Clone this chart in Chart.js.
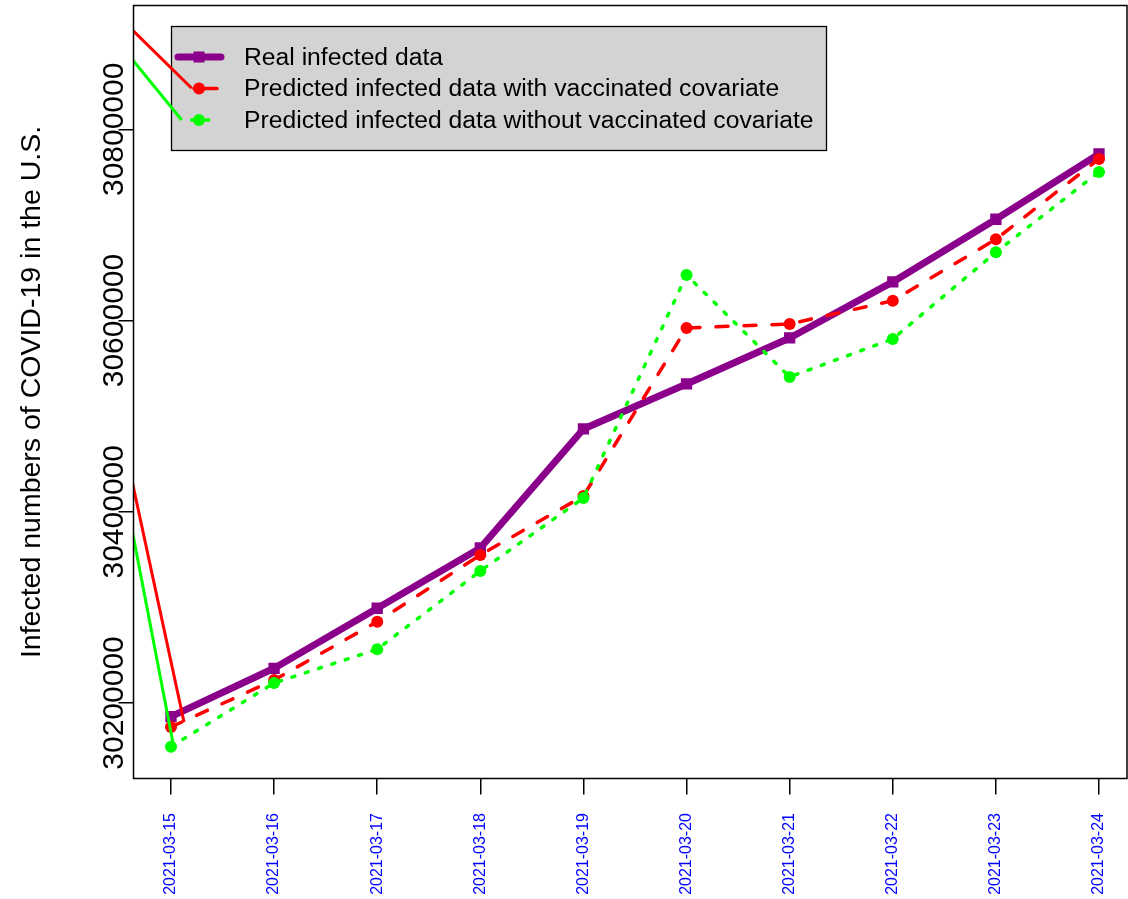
<!DOCTYPE html>
<html><head><meta charset="utf-8">
<script src="https://cdn.jsdelivr.net/npm/chart.js@4/dist/chart.umd.min.js"></script>
<style>html,body{margin:0;padding:0;background:#fff}canvas{display:block}</style>
</head><body>
<canvas id="c" width="1128" height="899"></canvas>
<script>
const dates = ['2021-03-15','2021-03-16','2021-03-17','2021-03-18','2021-03-19','2021-03-20','2021-03-21','2021-03-22','2021-03-23','2021-03-24'];
const realInfected = [30185670, 30236300, 30299060, 30362130, 30486600, 30533670, 30581790, 30640370, 30705950, 30774250];
const predWithVacc = [30174900, 30224060, 30285040, 30354800, 30416500, 30592250, 30596430, 30620800, 30685000, 30769000];
const predWithoutVacc = [30154290, 30220920, 30256170, 30338070, 30414430, 30647690, 30541000, 30580740, 30671400, 30755430];
const yTicks = [30200000, 30400000, 30600000, 30800000];
const seriesNames = ['Real infected data', 'Predicted infected data with vaccinated covariate', 'Predicted infected data without vaccinated covariate'];
const yTitle = 'Infected numbers of COVID-19 in the U.S.';
// stray straight segments visible in the picture (index units, value units)
const strayRedUpperX = [-0.45, 0.2008], strayRedUpperY = [30911800, 30842980];
const strayGreenUpperX = [-0.45, 0.1038], strayGreenUpperY = [30882830, 30809800];
const strayRedLowerX = [-0.45, 0.1261], strayRedLowerY = [30468440, 30180126];
const strayGreenLowerX = [-0.45, 0.0194], strayGreenLowerY = [30421700, 30158160];

const FONT = '"Liberation Sans", Arial, Helvetica, sans-serif';
const PURPLE = '#8b008b', RED = '#ff0000', GREEN = '#00ff00';
const pts = arr => arr.map((v, i) => ({x: i, y: v}));
const seg = (xs, ys) => xs.map((x, i) => ({x, y: ys[i]}));

const rPlugin = {
  id: 'rstyle',
  beforeDraw(chart) {
    const c = chart.ctx; c.save(); c.fillStyle = '#fff'; c.fillRect(0, 0, chart.width, chart.height); c.restore();
  },
  beforeDatasetsDraw(chart) {
    const c = chart.ctx; c.save();
    const bx = 171, by = 26, bw = 656, bh = 125;
    c.fillStyle = '#d3d3d3'; c.fillRect(bx, by, bw, bh);
    c.strokeStyle = '#000'; c.lineWidth = 1.3; c.strokeRect(bx + 0.5, by + 0.5, bw - 1, bh - 1);
    const rows = [57, 88.5, 120];
    c.lineCap = 'round';
    c.strokeStyle = PURPLE; c.lineWidth = 7;
    c.beginPath(); c.moveTo(178, rows[0]); c.lineTo(221, rows[0]); c.stroke();
    c.fillStyle = PURPLE; c.fillRect(193.5, rows[0] - 5.5, 11, 11);
    c.strokeStyle = RED; c.lineWidth = 3.5;
    c.beginPath(); c.moveTo(194, rows[1]); c.lineTo(217, rows[1]); c.stroke();
    c.fillStyle = RED; c.beginPath(); c.arc(199, rows[1], 6, 0, Math.PI * 2); c.fill();
    c.strokeStyle = GREEN; c.lineWidth = 3.5; c.setLineDash([3, 11]);
    c.beginPath(); c.moveTo(191.7, rows[2]); c.lineTo(209, rows[2]); c.stroke();
    c.setLineDash([]);
    c.fillStyle = GREEN; c.beginPath(); c.arc(199, rows[2], 6, 0, Math.PI * 2); c.fill();
    c.fillStyle = '#000'; c.font = '24.7px ' + FONT; c.textBaseline = 'middle'; c.textAlign = 'left';
    seriesNames.forEach((t, i) => c.fillText(t, 244, rows[i] + 1));
    c.restore();
  },
  afterDraw(chart) {
    const c = chart.ctx, a = chart.chartArea, ys = chart.scales.y, xs = chart.scales.x;
    c.save();
    c.strokeStyle = '#000'; c.lineWidth = 1.5;
    c.strokeRect(a.left, a.top, a.right - a.left, a.bottom - a.top);
    c.fillStyle = '#000'; c.font = '30px ' + FONT; c.textAlign = 'center'; c.textBaseline = 'alphabetic';
    yTicks.forEach(v => {
      const py = ys.getPixelForValue(v);
      c.save(); c.translate(123, py); c.rotate(-Math.PI / 2); c.fillText(String(v), 0, 0); c.restore();
    });
    c.font = '28.5px ' + FONT;
    c.save(); c.translate(40, (a.top + a.bottom) / 2); c.rotate(-Math.PI / 2); c.fillText(yTitle, 0, 0); c.restore();
    c.fillStyle = '#0000ff'; c.font = '16px ' + FONT; c.textAlign = 'right'; c.textBaseline = 'alphabetic';
    dates.forEach((d, i) => {
      const px = xs.getPixelForValue(i);
      c.save(); c.translate(px + 4.3, 813); c.rotate(-Math.PI / 2); c.fillText(d, 0, 0); c.restore();
    });
    c.restore();
  }
};

new Chart(document.getElementById('c'), {
  type: 'line',
  data: {
    datasets: [
      {label: seriesNames[2], data: pts(predWithoutVacc), borderColor: GREEN, backgroundColor: GREEN, borderWidth: 3.5,
       borderDash: [3, 11], borderCapStyle: 'round', borderJoinStyle: 'round', pointRadius: 6, pointBorderWidth: 0, pointBackgroundColor: GREEN, order: 1},
      {label: seriesNames[1], data: pts(predWithVacc), borderColor: RED, backgroundColor: RED, borderWidth: 3.5,
       borderDash: [12, 16], borderCapStyle: 'round', borderJoinStyle: 'round', pointRadius: 6, pointBorderWidth: 0, pointBackgroundColor: RED, order: 2},
      {label: seriesNames[0], data: pts(realInfected), borderColor: PURPLE, backgroundColor: PURPLE, borderWidth: 7,
       borderCapStyle: 'round', borderJoinStyle: 'round', pointStyle: 'rect', pointRadius: 8, pointBorderWidth: 0, pointBackgroundColor: PURPLE, order: 3},
      {data: seg(strayRedUpperX, strayRedUpperY), borderColor: RED, borderWidth: 3, pointRadius: 0, clip: 0, order: 0},
      {data: seg(strayGreenUpperX, strayGreenUpperY), borderColor: GREEN, borderWidth: 3, pointRadius: 0, clip: 0, order: 0},
      {data: seg(strayRedLowerX, strayRedLowerY), borderColor: RED, borderWidth: 3, pointRadius: 0, clip: 0, order: 0},
      {data: seg(strayGreenLowerX, strayGreenLowerY), borderColor: GREEN, borderWidth: 3, pointRadius: 0, clip: 0, order: 0}
    ]
  },
  options: {
    responsive: false, animation: false, devicePixelRatio: 1,
    layout: {autoPadding: false, padding: {top: 5.5, right: 1, left: 0, bottom: 0}},
    plugins: {legend: {display: false}, tooltip: {enabled: false}},
    scales: {
      x: {
        type: 'linear', min: -0.3637, max: 9.2716,
        afterBuildTicks: s => { s.ticks = dates.map((d, i) => ({value: i})); },
        afterFit: s => { s.height = 120.5; },
        grid: {drawOnChartArea: false, drawTicks: true, tickLength: 16, color: '#000', lineWidth: 1.5},
        border: {display: false},
        ticks: {display: false}
      },
      y: {
        min: 30121025, max: 30929498,
        afterBuildTicks: s => { s.ticks = yTicks.map(v => ({value: v})); },
        afterFit: s => { s.width = 133.5; },
        grid: {drawOnChartArea: false, drawTicks: true, tickLength: 15, color: '#000', lineWidth: 1.5},
        border: {display: false},
        ticks: {display: false}
      }
    }
  },
  plugins: [rPlugin]
});
</script>
</body></html>
